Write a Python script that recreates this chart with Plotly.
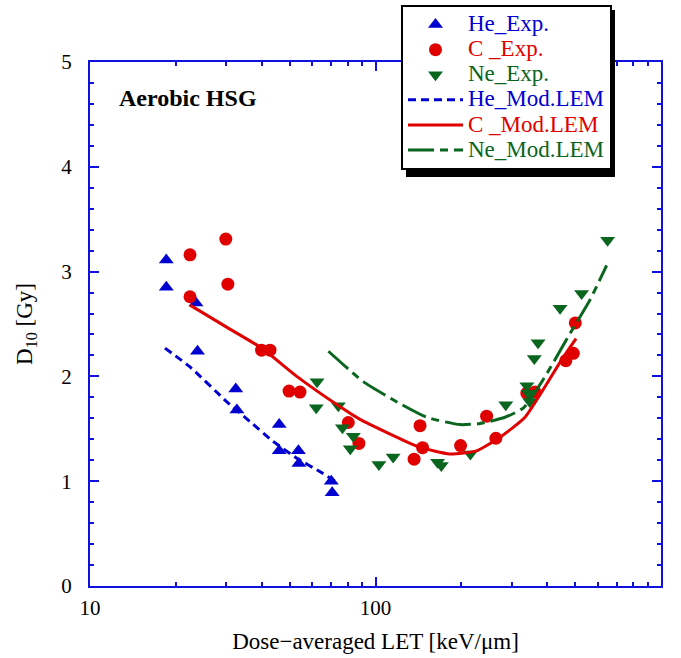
import plotly.graph_objects as go

# ---------------- data ----------------
he_exp_let = [18.5, 18.5, 23.5, 23.8, 32.4, 32.7, 46.0, 46.0, 53.7, 53.9, 70.0, 70.5]
he_exp_d10 = [3.11, 2.85, 2.70, 2.24, 1.88, 1.68, 1.54, 1.29, 1.29, 1.17, 1.00, 0.89]

c_exp_let = [22.4, 29.9, 22.4, 30.4, 39.9, 42.7, 49.8, 54.4, 80.3, 87.5, 143.2, 146.2,
             136.5, 198.6, 245.0, 264.0, 339.0, 362.0, 464.0, 493.0, 501.0]
c_exp_d10 = [3.16, 3.31, 2.76, 2.88, 2.25, 2.25, 1.86, 1.85, 1.56, 1.36, 1.53, 1.32,
             1.21, 1.34, 1.62, 1.41, 1.84, 1.85, 2.15, 2.22, 2.51]

ne_exp_let = [62.4, 62.0, 74.1, 76.6, 83.6, 81.6, 102.8, 115.3, 165.0, 170.0, 215.0,
              286.0, 339.0, 343.0, 347.0, 360.0, 371.0, 443.0, 527.0, 650.0]
ne_exp_d10 = [1.95, 1.70, 1.72, 1.51, 1.43, 1.31, 1.16, 1.23, 1.18, 1.15, 1.26,
              1.73, 1.91, 1.84, 1.76, 2.17, 2.32, 2.65, 2.79, 3.30]

he_mod_let = [18.3, 22.4, 30.1, 36.3, 43.8, 53.0, 64.0, 72.1]
he_mod_d10 = [2.27, 2.09, 1.76, 1.57, 1.38, 1.22, 1.09, 1.00]

c_mod_let = [22.4, 30.1, 39.9, 53.0, 75.2, 88.3, 141.0, 182.0, 226.0, 273.0, 334.0, 449.0, 504.0]
c_mod_d10 = [2.68, 2.47, 2.27, 2.00, 1.71, 1.59, 1.33, 1.26, 1.29, 1.42, 1.61, 2.16, 2.36]

ne_mod_let = [68.4, 90.6, 121.8, 151.0, 197.8, 232.0, 284.0, 330.0, 393.0, 473.0, 564.0, 645.0]
ne_mod_d10 = [2.24, 1.95, 1.74, 1.61, 1.54, 1.55, 1.61, 1.70, 2.00, 2.38, 2.73, 3.06]

x_tick_vals = [10, 100, 1000]
x_tick_text = ["10", "100", "1000"]
y_tick_vals = [0, 1, 2, 3, 4, 5]

# ---------------- style ----------------
BLUE = "#0000d0"
RED = "#e00000"
GREEN = "#0a651e"
AXIS = "#1010e0"
FONT = "Liberation Serif"

W, H = 681, 658
PL, PR, PT, PB = 90, 661, 62, 586
PW, PH = PR - PL, PB - PT


def px_x(p):
    return (p - PL) / PW


def px_y(p):
    return (PB - p) / PH


def lbl(text, color):
    return f'<span style="color:{color};font-size:23px">{text}</span>'


fig = go.Figure()

fig.add_trace(go.Scatter(x=he_exp_let, y=he_exp_d10, mode="markers", name=lbl("He_Exp.", BLUE),
                         marker=dict(symbol="triangle-up", size=13, color=BLUE)))
fig.add_trace(go.Scatter(x=c_exp_let, y=c_exp_d10, mode="markers", name=lbl("C _Exp.", RED),
                         marker=dict(symbol="circle", size=13, color=RED)))
fig.add_trace(go.Scatter(x=ne_exp_let, y=ne_exp_d10, mode="markers", name=lbl("Ne_Exp.", GREEN),
                         marker=dict(symbol="triangle-down", size=13, color=GREEN)))
fig.add_trace(go.Scatter(x=he_mod_let, y=he_mod_d10, mode="lines", name=lbl("He_Mod.LEM", BLUE),
                         line=dict(color=BLUE, width=3, dash="8px,5px", shape="spline", smoothing=0.5)))
fig.add_trace(go.Scatter(x=c_mod_let, y=c_mod_d10, mode="lines", name=lbl("C _Mod.LEM", RED),
                         line=dict(color=RED, width=3, shape="spline", smoothing=0.5)))
fig.add_trace(go.Scatter(x=ne_mod_let, y=ne_mod_d10, mode="lines", name=lbl("Ne_Mod.LEM", GREEN),
                         line=dict(color=GREEN, width=3, dash="26px,6px,8px,6px", shape="spline", smoothing=0.5)))

axis_common = dict(
    showline=True, linecolor=AXIS, linewidth=2, mirror="allticks",
    ticks="inside", ticklen=9, tickwidth=1.5, tickcolor=AXIS,
    showgrid=False, zeroline=False, automargin=False,
    tickfont=dict(family=FONT, size=21, color="black"),
)

fig.update_xaxes(
    type="log", range=[1, 3], tickvals=x_tick_vals, ticktext=x_tick_text,
    title=dict(text="Dose\u2212averaged LET [keV/\u03bcm]", font=dict(family=FONT, size=23, color="black"), standoff=14),
    minor=dict(ticks="inside", ticklen=4, tickwidth=1.5, tickcolor=AXIS, dtick="D1"),
    ticklabelstandoff=2,
    **axis_common,
)
fig.update_yaxes(
    range=[0, 5], tickvals=y_tick_vals,
    title=dict(text="D<sub>10</sub> [Gy]", font=dict(family=FONT, size=23, color="black"), standoff=22),
    minor=dict(ticks="inside", ticklen=4, tickwidth=1.5, tickcolor=AXIS, dtick=0.2),
    ticklabelstandoff=12,
    **axis_common,
)

fig.add_annotation(text="<b>Aerobic HSG</b>", xref="paper", yref="paper", x=px_x(117), y=px_y(98),
                   xanchor="left", yanchor="middle", showarrow=False,
                   font=dict(family=FONT, size=24, color="black"))

# legend shadow
fig.add_shape(type="rect", xref="paper", yref="paper",
              x0=px_x(406), x1=px_x(615),
              y0=px_y(177), y1=px_y(10),
              fillcolor="black", line=dict(width=0), layer="above")

fig.update_layout(
    width=W, height=H,
    margin=dict(l=PL, r=W - PR, t=PT, b=H - PB, autoexpand=False),
    plot_bgcolor="white", paper_bgcolor="white",
    font=dict(family=FONT, size=21, color="black"),
    legend=dict(x=px_x(401), y=px_y(5), xanchor="left", yanchor="top",
                bgcolor="white", bordercolor="black", borderwidth=2,
                font=dict(family=FONT, size=17), tracegroupgap=0, itemwidth=55),
    showlegend=True,
)

fig.write_html("out.html", config={"displayModeBar": False},
               post_script="document.body.style.margin='0';")
